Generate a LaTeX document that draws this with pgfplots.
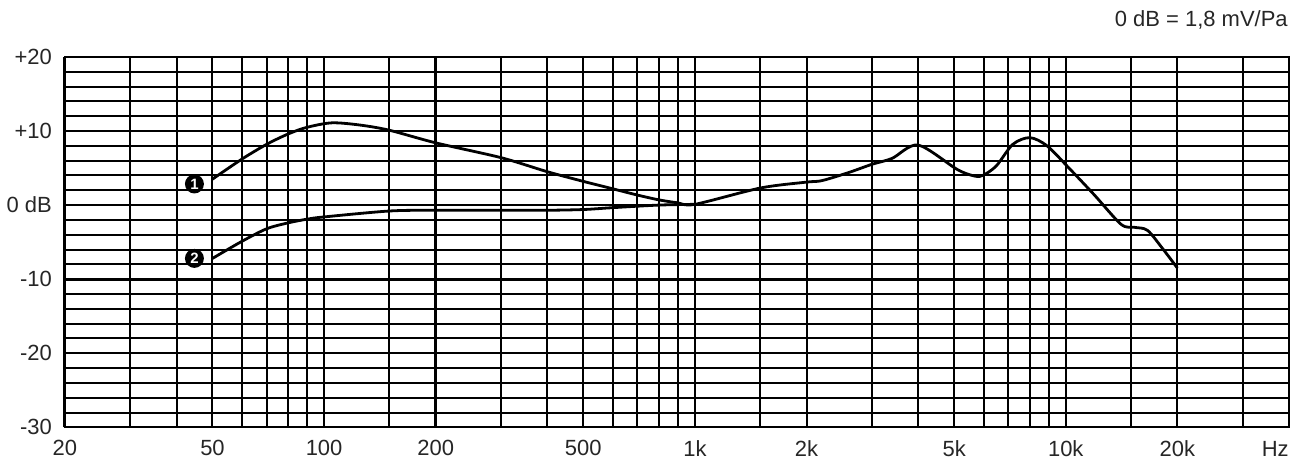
\documentclass[border=0pt]{standalone}
\usepackage{pgfplots}
\pgfplotsset{compat=1.18}
\usepackage{fontspec}
\setmainfont{Liberation Sans}

\begin{document}
\begin{tikzpicture}
	\begin{axis}[
		scale only axis,
		width=613pt,
		height=185.5pt,
		xmode=log,
		xmin=20, xmax=40000,
		ymin=-30, ymax=20,
		axis line style={line width=0.9pt, black},
		xtick={20,50,100,200,500,1000,2000,5000,10000,20000},
		xticklabels={20,50,100,200,500,1k,2k,5k,10k,20k},
		minor xtick={30,40,60,70,80,90,150,300,400,600,700,800,900,1500,3000,4000,6000,7000,8000,9000,15000,30000},
		ytick={-30,-20,-10,0,10,20},
		yticklabels={-30,-20,-10,0 dB,+10,+20},
		minor ytick={-28,-26,...,18},
		extra x ticks={20,200},
		extra x tick labels={},
		extra x tick style={grid=major, major grid style={line width=1.6pt, black}},
		extra y ticks={-10},
		extra y tick labels={},
		extra y tick style={grid=major, major grid style={line width=1.6pt, black}},
		grid=both,
		major grid style={line width=1pt, black},
		minor grid style={line width=1pt, black},
		major tick length=0pt,
		minor tick length=0pt,
		/pgf/number format/assume math mode=true,
		tick label style={font=\fontsize{11}{13}\selectfont, text=black!85},
		xticklabel style={yshift=-3pt},
		yticklabel style={xshift=-3pt},
		clip=false,
	]
		%% curve 1
		\addplot[black, line width=1.4pt, smooth, tension=0.5] coordinates {
			(50,3.5) (60,6.2) (70,8.2) (80,9.6) (90,10.5) (105,11.1) (125,10.8)
			(150,10.1) (200,8.4) (300,6.4) (400,4.5) (500,3.2) (600,2.2)
			(700,1.35) (800,0.7) (900,0.3) (1000,0.1)
			(1500,2.3) (2000,3.1) (2200,3.3) (2600,4.4) (3000,5.5) (3400,6.3)
			(4000,8.1) (5100,4.8) (5700,3.9) (6000,4.05) (6500,5.3) (7200,8.2)
			(8000,9.1) (8900,8.0) (10200,5.0) (11900,1.45) (14100,-2.6)
			(15300,-3.0) (16600,-3.4) (18200,-5.8) (20000,-8.5)
		};
		%% curve 2
		\addplot[black, line width=1.4pt, smooth, tension=0.5] coordinates {
			(50,-7.2) (60,-4.9) (70,-3.2) (80,-2.4) (90,-1.9) (100,-1.6)
			(150,-0.8) (200,-0.7) (300,-0.7) (400,-0.7) (500,-0.6)
			(600,-0.35) (800,0) (1000,0.1)
		};
		\node[circle, fill=black, inner sep=0pt, minimum size=9.5pt, text=white,
			font=\fontsize{7.5}{9}\selectfont\bfseries] at (axis cs:44.7,2.85) {1};
		\node[circle, fill=black, inner sep=0pt, minimum size=9.5pt, text=white,
			font=\fontsize{7.5}{9}\selectfont\bfseries] at (axis cs:44.7,-7.2) {2};
		\node[anchor=north east, inner sep=0pt, text=black!85,
			font=\fontsize{11}{13}\selectfont] at ([xshift=0pt, yshift=-6.8pt]rel axis cs:1,0) {Hz};
		\node[anchor=east, inner sep=0pt, text=black!85,
			font=\fontsize{11}{13}\selectfont] at ([xshift=-0.5pt, yshift=18.5pt]rel axis cs:1,1) {0 dB = 1,8 mV/Pa};
	\end{axis}
	\path (current axis.south west) ++(-31.5pt,-17.5pt);
	\path (current axis.north east) ++(4.5pt,28.5pt);
\end{tikzpicture}
\end{document}
